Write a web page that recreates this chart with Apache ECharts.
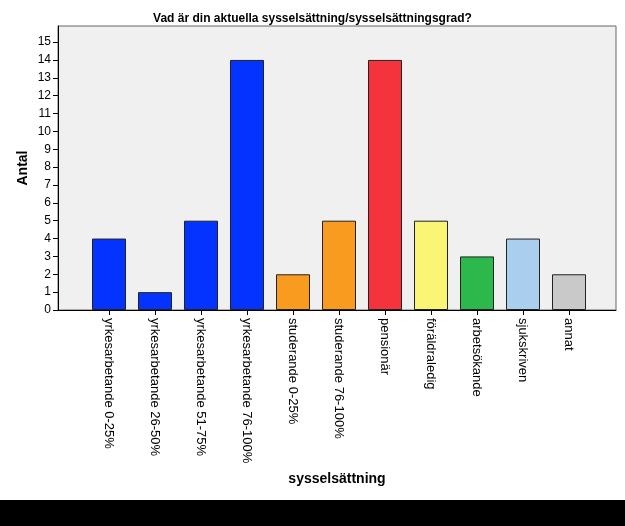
<!DOCTYPE html>
<html><head><meta charset="utf-8">
<script src="https://cdn.jsdelivr.net/npm/echarts@6/dist/echarts.min.js"></script>
<style>html,body{margin:0;padding:0;background:#fff;}#c{width:625px;height:500px;}#b{width:625px;height:26px;background:#000;}</style>
</head><body><div id="c"></div><div id="b"></div>
<script>
const categories = ['yrkesarbetande 0-25%','yrkesarbetande 26-50%','yrkesarbetande 51-75%','yrkesarbetande 76-100%','studerande 0-25%','studerande 76-100%','pensionär','föräldraledig','arbetsökande','sjukskriven','annat'];
const values = [4,1,5,14,2,5,14,5,3,4,2];
const barColors = ['#0433ff','#0433ff','#0433ff','#0433ff','#f99b1f','#f99b1f','#f4333c','#fbf575','#2db84b','#aacfee','#c9c9c9'];
const yTicks = [0,1,2,3,4,5,6,7,8,9,10,11,12,13,14,15];
const yMax = 15.9;
const font = 'Liberation Sans, Arial, sans-serif';
const chart = echarts.init(document.getElementById('c'));
chart.setOption({
  animation:false,
  title:{text:'Vad är din aktuella sysselsättning/sysselsättningsgrad?',left:'center',top:8,
    textStyle:{fontFamily:font,fontSize:12,fontWeight:'bold',color:'#000'}},
  grid:[
    {left:58,top:26,right:9,bottom:190,show:true,backgroundColor:'#f0f0f0',borderColor:'#666',borderWidth:1},
    {left:86,top:26,right:33,bottom:190}
  ],
  xAxis:[
    {type:'value',gridIndex:0,min:0,max:1,axisLine:{show:true,onZero:false,lineStyle:{color:'#000',width:1}},axisTick:{show:false},axisLabel:{show:false},splitLine:{show:false},
     name:'sysselsättning',nameLocation:'middle',nameGap:162,nameMoveOverlap:false,nameTextStyle:{fontFamily:font,fontSize:14,fontWeight:'bold',color:'#000'}},
    {type:'category',gridIndex:1,data:categories,boundaryGap:true,
     axisLine:{show:false},
     axisTick:{show:true,alignWithLabel:true,length:5,lineStyle:{color:'#000'}},
     axisLabel:{rotate:-90,interval:0,margin:8,fontFamily:font,fontSize:13,color:'#000'}}
  ],
  yAxis:[
    {type:'value',gridIndex:0,min:0,max:yMax,
     axisLine:{show:true,lineStyle:{color:'#000'}},
     axisTick:{show:true,length:5,customValues:yTicks,lineStyle:{color:'#000'}},
     axisLabel:{customValues:yTicks,fontFamily:font,fontSize:12,color:'#000',margin:7},
     splitLine:{show:false},
     name:'Antal',nameLocation:'middle',nameGap:28,nameMoveOverlap:false,nameRotate:90,nameTextStyle:{fontFamily:font,fontSize:14,fontWeight:'bold',color:'#000'}},
    {type:'value',gridIndex:1,min:0,max:yMax,show:false,splitLine:{show:false}}
  ],
  series:[{type:'bar',xAxisIndex:1,yAxisIndex:1,barWidth:34,
    data:values.map((v,i)=>({value:v,itemStyle:{color:barColors[i]}})),
    itemStyle:{borderColor:'#222',borderWidth:1}}]
});
</script></body></html>
